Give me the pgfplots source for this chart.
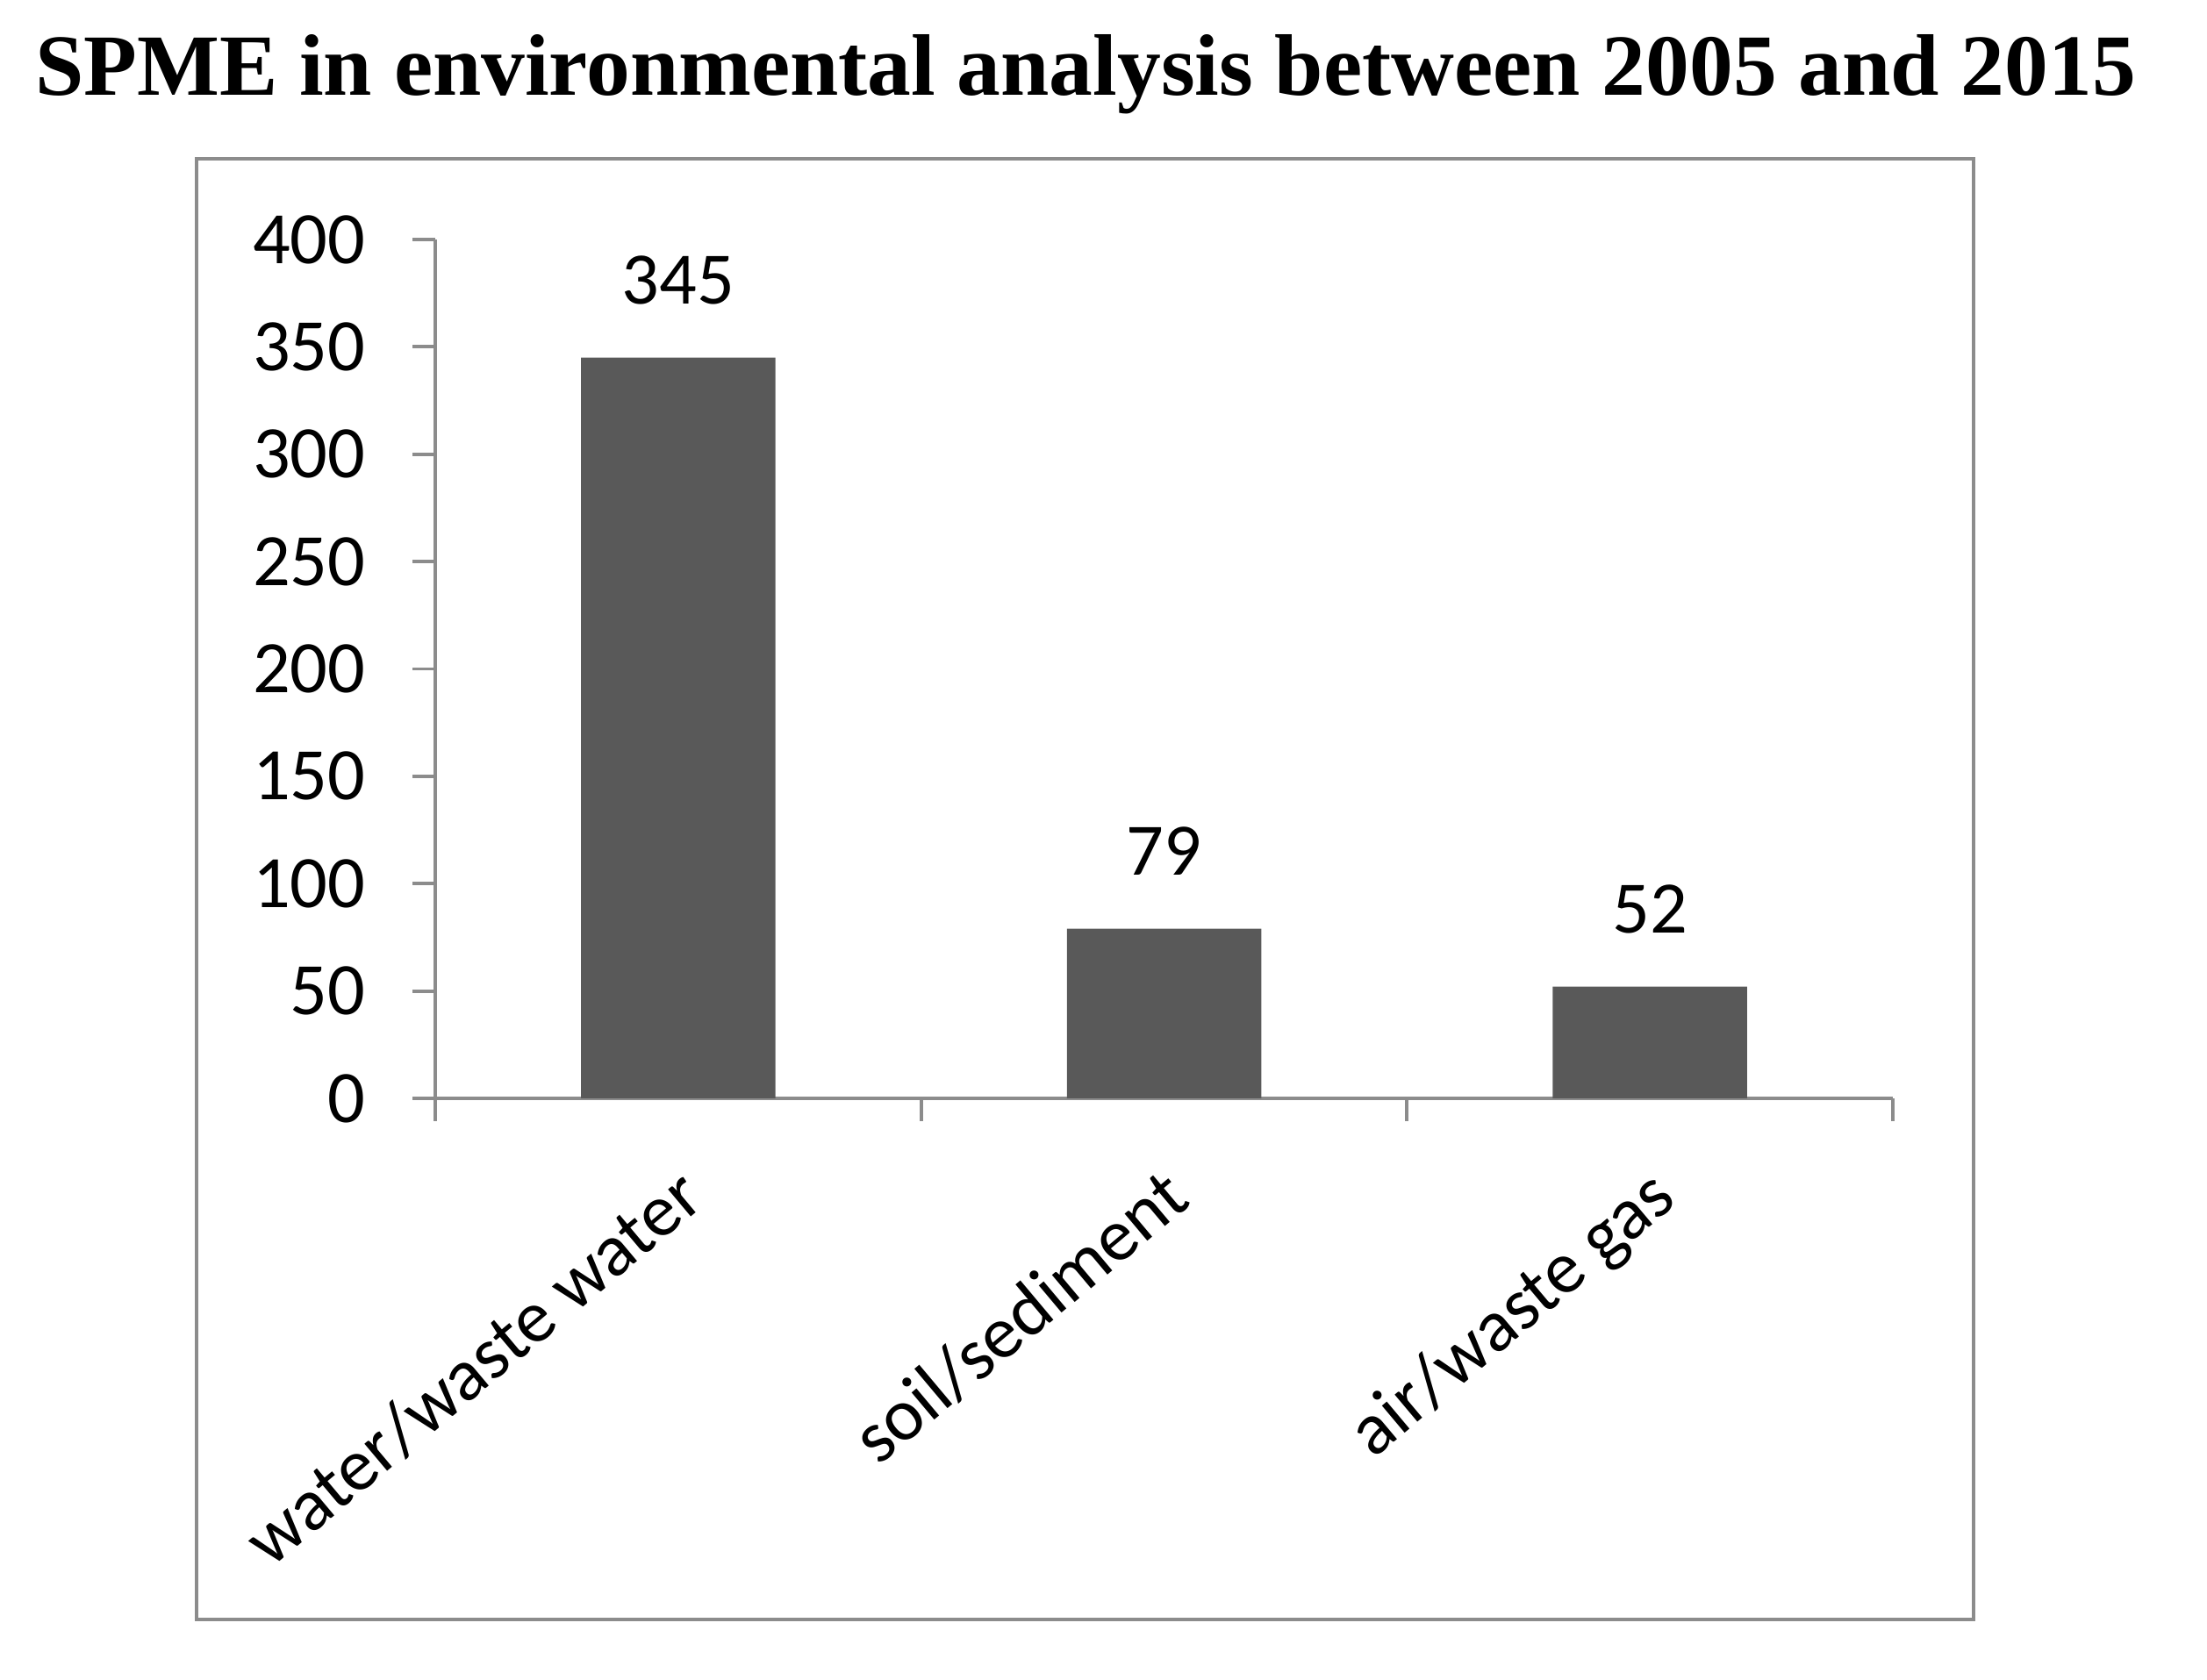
\documentclass[border=0pt]{standalone}
\usepackage{pgfplots}
\pgfplotsset{compat=1.18}
\usepackage{fontspec}
\setmainfont{Carlito}
\newfontfamily\titlefont{Liberation Serif}
\definecolor{axgray}{HTML}{8C8C8C}
\definecolor{bargray}{HTML}{595959}

\begin{document}
\begin{tikzpicture}
\useasboundingbox (0,0) rectangle (25.15cm,19.15cm);
% outer chart frame
\draw[axgray, line width=1pt] (2.24cm,0.69cm) rectangle (22.49cm,17.34cm);
\node[anchor=base, font=\titlefont\bfseries\fontsize{28.3}{32}\selectfont] at (12.37cm,18.06cm)
  {SPME in environmental analysis between 2005 and 2015};
\begin{axis}[
    at={(4.96cm,6.63cm)}, anchor=south west,
    scale only axis,
    width=16.61cm, height=9.79cm,
    xmin=-0.5, xmax=2.5,
    ymin=0, ymax=400,
    ybar, bar width=0.4,
    axis lines*=left,
    axis line style={axgray, line width=1.1pt, -},
    every tick/.style={axgray, line width=1.1pt},
    tick align=outside,
    major tick length=0.26cm,
    ytick={0,50,...,400},
    xtick={-0.5,0.5,1.5,2.5},
    xticklabels={},
    extra x ticks={0,1,2},
    extra x tick labels={water/waste water, soil/sediment, air/waste gas},
    extra x tick style={tick style={draw=none}},
    /pgf/number format/assume math mode=true,
    tick label style={font=\fontsize{24}{28}\selectfont},
    yticklabel style={inner sep=0pt, xshift=-0.53cm},
    xticklabel style={xshift=-0.05cm, yshift=-0.48cm, rotate=40, anchor=north east, inner sep=0pt},
    nodes near coords,
    nodes near coords style={font=\fontsize{24}{28}\selectfont, anchor=south, inner sep=0pt, yshift=0.6cm, black},
]
\addplot[fill=bargray, draw=none] coordinates {(0,345) (1,79) (2,52)};
\end{axis}
\end{tikzpicture}
\end{document}
